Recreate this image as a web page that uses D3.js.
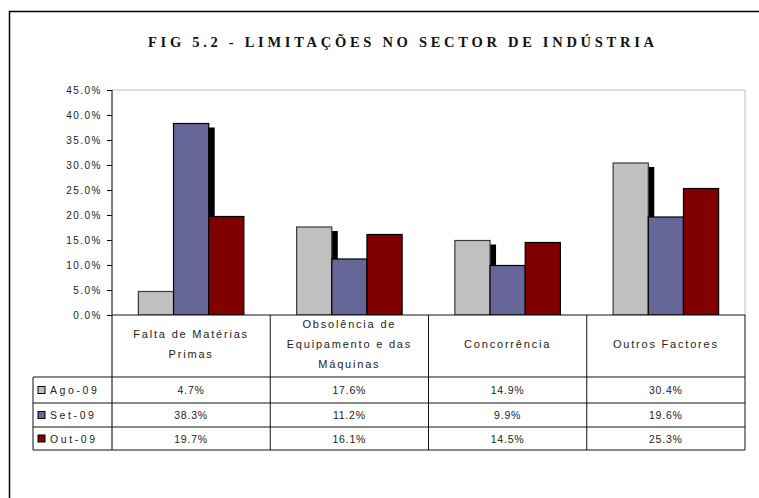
<!DOCTYPE html>
<html><head><meta charset="utf-8">
<script src="https://cdn.jsdelivr.net/npm/d3@7"></script>
<style>body{margin:0;background:#fff}svg{display:block}</style>
</head><body>
<svg id="c" width="759" height="498"></svg>
<script>
const title = "FIG 5.2 - LIMITAÇÕES NO SECTOR DE INDÚSTRIA";
const categories = ["Falta de Matérias Primas", "Obsolência de Equipamento e das Máquinas", "Concorrência", "Outros Factores"];
const categoryLines = [["Falta de Matérias", "Primas"], ["Obsolência de", "Equipamento e das", "Máquinas"], ["Concorrência"], ["Outros Factores"]];
const seriesNames = ["Ago-09", "Set-09", "Out-09"];
const ago09 = [4.7, 17.6, 14.9, 30.4];
const set09 = [38.3, 11.2, 9.9, 19.6];
const out09 = [19.7, 16.1, 14.5, 25.3];
const tableLabels = [["4.7%", "17.6%", "14.9%", "30.4%"], ["38.3%", "11.2%", "9.9%", "19.6%"], ["19.7%", "16.1%", "14.5%", "25.3%"]];
const yTicks = [0, 5, 10, 15, 20, 25, 30, 35, 40, 45];
const colors = ["#C0C0C0", "#666699", "#800000"];
const series = [ago09, set09, out09];

const svg = d3.select("#c");
const L = 112, R = 745, T = 90, B = 315;
const tabLeft = 33, rowY = [315, 377, 403, 427, 450];

// outer border
svg.append("rect").attr("x", 9.5).attr("y", 11.5).attr("width", 800).attr("height", 600)
  .attr("fill", "none").attr("stroke", "#000").attr("stroke-width", 1.5);

// title
svg.append("text").attr("x", 401).attr("y", 47).attr("text-anchor", "middle")
  .attr("font-family", "Liberation Serif, Times New Roman, serif").attr("font-weight", "bold")
  .attr("font-size", 14.5).attr("fill", "#111")
  .attr("textLength", 506).attr("lengthAdjust", "spacing").text(title);

const x = d3.scaleBand().domain(categories).range([L, R]).padding(0);
const xs = d3.scaleBand().domain(seriesNames).range([0, x.bandwidth()]).paddingInner(0).paddingOuter(0.75);
const y = d3.scaleLinear().domain([0, 45]).range([B, T]);

// plot area border (top/right light gray)
svg.append("path").attr("d", `M${L},${T}H${R}V${B}`).attr("fill", "none")
  .attr("stroke", "#d4d4d4").attr("stroke-width", 1.5);

svg.append("defs").append("clipPath").attr("id", "pc").append("rect")
  .attr("x", L).attr("y", T - 5).attr("width", R - L).attr("height", B - T + 5);

const plot = svg.append("g").attr("clip-path", "url(#pc)");
categories.forEach((cat, ci) => {
  series.forEach((vals, si) => {
    const bx = x(cat) + xs(seriesNames[si]);
    const bw = xs.bandwidth();
    if (si < 2) {
      plot.append("rect").attr("x", bx + 6).attr("y", y(vals[ci]) + 4)
        .attr("width", bw).attr("height", B - y(vals[ci])).attr("fill", "#000");
    }
    plot.append("rect").attr("x", bx).attr("y", y(vals[ci]))
      .attr("width", bw).attr("height", B - y(vals[ci]))
      .attr("fill", colors[si]).attr("stroke", si === 0 ? "#3a3a3a" : "#000").attr("stroke-width", 1.2);
  });
});

// y axis
const yAxis = d3.axisLeft(y).tickValues(yTicks).tickSize(5).tickPadding(5)
  .tickFormat(d => d3.format(".1f")(d) + "%");
const ga = svg.append("g").attr("transform", `translate(${L},0)`).call(yAxis);
ga.select(".domain").remove();
ga.selectAll(".tick line").attr("stroke", "#000");
ga.selectAll("text").attr("font-family", "Liberation Sans, Arial, sans-serif").attr("font-size", 10)
  .attr("fill", "#222").attr("letter-spacing", 1.5);
svg.append("line").attr("x1", L).attr("x2", L).attr("y1", T).attr("y2", rowY[4]).attr("stroke", "#000");

// data table
const tg = svg.append("g").attr("stroke", "#111").attr("stroke-width", 1);
tg.append("line").attr("x1", L).attr("x2", R).attr("y1", B).attr("y2", B);
[rowY[1], rowY[2], rowY[3], rowY[4]].forEach(yy => tg.append("line").attr("x1", tabLeft).attr("x2", R).attr("y1", yy).attr("y2", yy));
tg.append("line").attr("x1", tabLeft).attr("x2", tabLeft).attr("y1", rowY[1]).attr("y2", rowY[4]);
categories.forEach(cat => {
  const xe = x(cat) + x.bandwidth();
  tg.append("line").attr("x1", xe).attr("x2", xe).attr("y1", B).attr("y2", rowY[4]);
});

const font = "Liberation Sans, Arial, sans-serif";
// category labels
categories.forEach((cat, ci) => {
  const lines = categoryLines[ci];
  const cx = x(cat) + x.bandwidth() / 2;
  const lh = 20, mid = 348;
  lines.forEach((ln, li) => {
    svg.append("text").attr("x", cx).attr("y", mid + (li - (lines.length - 1) / 2) * lh)
      .attr("text-anchor", "middle").attr("font-family", font).attr("font-size", 11)
      .attr("fill", "#222").attr("letter-spacing", 1.8).text(ln);
  });
});

// values
series.forEach((vals, si) => {
  const cy = (rowY[si + 1] + rowY[si + 2]) / 2 + 4;
  categories.forEach((cat, ci) => {
    svg.append("text").attr("x", x(cat) + x.bandwidth() / 2).attr("y", cy)
      .attr("text-anchor", "middle").attr("font-family", font).attr("font-size", 10.5)
      .attr("fill", "#222").attr("letter-spacing", 0.8).text(tableLabels[si][ci]);
  });
  svg.append("rect").attr("x", 38).attr("y", cy - 7.5).attr("width", 7).attr("height", 7)
    .attr("fill", colors[si]).attr("stroke", "#000").attr("stroke-width", 1);
  svg.append("text").attr("x", 50).attr("y", cy).attr("font-family", font).attr("font-size", 10.5)
    .attr("fill", "#222").attr("letter-spacing", 2.6).text(seriesNames[si]);
});
</script>
</body></html>
